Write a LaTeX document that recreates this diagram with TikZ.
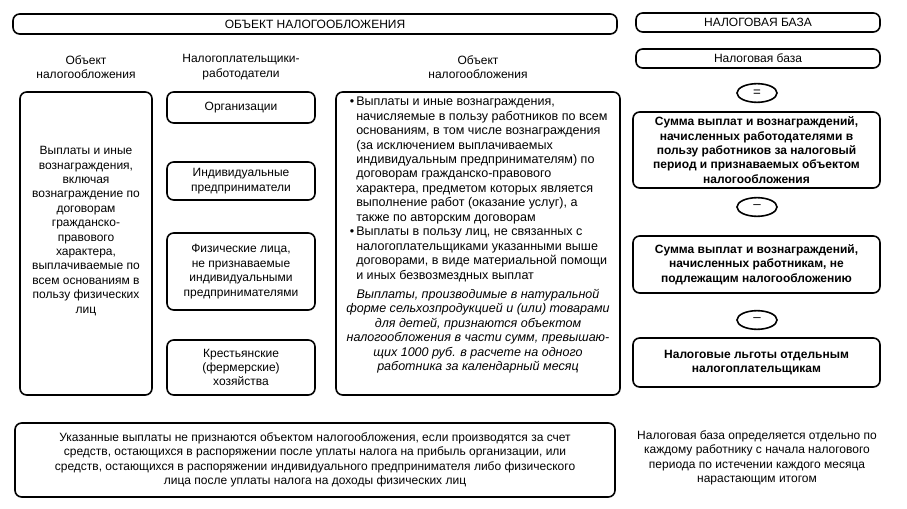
\documentclass[tikz,border=0pt]{standalone}
\usepackage{fontspec}
\setmainfont{Liberation Sans}
\usetikzlibrary{fit,shapes.geometric}

\begin{document}
\begin{tikzpicture}[x=0.75pt,y=-0.75pt,
  box/.style={draw, line width=1.2pt, rounded corners=5pt, inner sep=0pt},
  oval/.style={draw, ellipse, line width=1.2pt, minimum width=30pt, minimum height=14pt, inner sep=0pt},
  txt/.style={font=\fontsize{9}{10.8}\selectfont, align=center, inner sep=0pt},
  btxt/.style={txt, font=\fontsize{9}{10.8}\selectfont\bfseries}]

% Рамка рисунка
\useasboundingbox (0,0) rectangle (907,509);

% Заголовки
\node[box, fit={(13,14) (617,34)}] (objTitle) {};
\node[txt] (objTitleTxt) at (objTitle.center) {ОБЪЕКТ НАЛОГООБЛОЖЕНИЯ};
\node[box, fit={(636,13) (880,32)}] (baseTitle) {};
\node[txt] (baseTitleTxt) at (baseTitle.center) {НАЛОГОВАЯ БАЗА};

\node[txt] (headObj) at (86,67) {Объект\\налогообложения};
\node[txt] (headPay) at (241,67) {Налогоплательщики-\\работодатели};
\node[txt] (headObjB) at (478,67) {Объект\\налогообложения};

% Левый столбец
\node[box, fit={(20,92) (152,395)}] (objLeft) {};
\node[txt] (objLeftTxt) at (86,231) {Выплаты и иные\\вознаграждения,\\включая\\вознаграждение по\\договорам\\гражданско-\\правового\\характера,\\выплачиваемые по\\всем основаниям в\\пользу физических\\лиц};

% Налогоплательщики
\node[box, fit={(167,92) (315,123)}] (payOrg) {};
\node[txt] (payOrgTxt) at (payOrg.center) {Организации};
\node[box, fit={(167,162) (315,200)}] (payIp) {};
\node[txt] (payIpTxt) at (payIp.center) {Индивидуальные\\предприниматели};
\node[box, fit={(167,233) (315,310)}] (payFiz) {};
\node[txt] (payFizTxt) at (payFiz.center) {Физические лица,\\не признаваемые\\индивидуальными\\предпринимателями};
\node[box, fit={(167,340) (315,395)}] (payFarm) {};
\node[txt] (payFarmTxt) at (payFarm.center) {Крестьянские\\(фермерские)\\хозяйства};

% Объект налогообложения (подробно)
\node[box, fit={(336,92) (620,395)}] (objMid) {};
\node[txt, align=left, anchor=north west, font=\fontsize{9.4}{10.8}\selectfont] (objItemA) at (356,97) {\llap{\textbullet\,}Выплаты и иные вознаграждения,\\начисляемые в пользу работников по всем\\основаниям, в том числе вознаграждения\\(за исключением выплачиваемых\\индивидуальным предпринимателям) по\\договорам гражданско-правового\\характера, предметом которых является\\выполнение работ (оказание услуг), а\\также по авторским договорам};
\node[txt, align=left, anchor=north west, font=\fontsize{9.4}{10.8}\selectfont] (objItemB) at (356,227) {\llap{\textbullet\,}Выплаты в пользу лиц, не связанных с\\налогоплательщиками указанными выше\\договорами, в виде материальной помощи\\и иных безвозмездных выплат};
\node[txt, anchor=north, font=\fontsize{9.4}{10.8}\selectfont\itshape] (objNote) at (478,289) {Выплаты, производимые в натуральной\\форме сельхозпродукцией и (или) товарами\\для детей, признаются объектом\\налогообложения в части сумм, превышаю-\\щих 1000 руб. в расчете на одного\\работника за календарный месяц};

% Налоговая база
\node[box, fit={(636,49) (880,68)}] (baseHead) {};
\node[txt] (baseHeadTxt) at (baseHead.center) {Налоговая база};
\node[oval] (opEq) at (757,93) {=};
\node[box, fit={(633,112) (880,188)}] (baseSum) {};
\node[btxt] (baseSumTxt) at (baseSum.center) {Сумма выплат и вознаграждений,\\начисленных работодателями в\\пользу работников за налоговый\\период и признаваемых объектом\\налогообложения};
\node[oval] (opMinusA) at (757,207) {--};
\node[box, fit={(633,236) (880,293)}] (baseFree) {};
\node[btxt] (baseFreeTxt) at (baseFree.center) {Сумма выплат и вознаграждений,\\начисленных работникам, не\\подлежащим налогообложению};
\node[oval] (opMinusB) at (757,320) {--};
\node[box, fit={(633,338) (880,387)}] (baseRelief) {};
\node[btxt] (baseReliefTxt) at (baseRelief.center) {Налоговые льготы отдельным\\налогоплательщикам};

% Примечания
\node[box, fit={(15,423) (615,497)}] (noteLeft) {};
\node[txt] (noteLeftTxt) at (noteLeft.center) {Указанные выплаты не признаются объектом налогообложения, если производятся за счет\\средств, остающихся в распоряжении после уплаты налога на прибыль организации, или\\средств, остающихся в распоряжении индивидуального предпринимателя либо физического\\лица после уплаты налога на доходы физических лиц};
\node[txt] (noteRight) at (757,458) {Налоговая база определяется отдельно по\\каждому работнику с начала налогового\\периода по истечении каждого месяца\\нарастающим итогом};

\end{tikzpicture}
\end{document}
